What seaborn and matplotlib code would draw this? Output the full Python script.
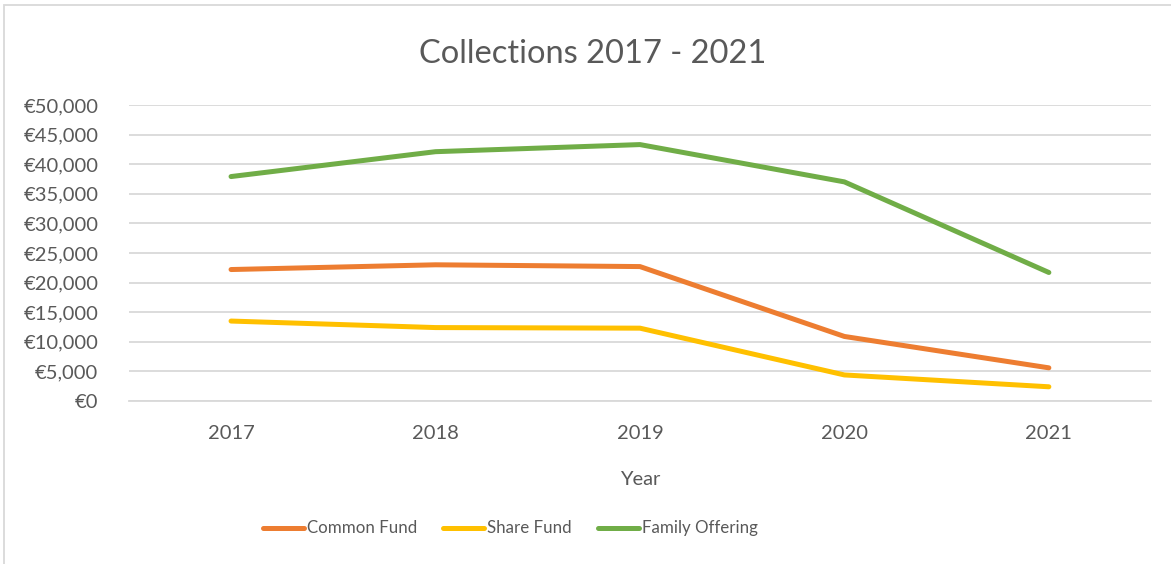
import pandas as pd
import seaborn as sns
import matplotlib.pyplot as plt
from matplotlib.ticker import FuncFormatter

# Values
years = ["2017", "2018", "2019", "2020", "2021"]
common_fund = [22200, 23000, 22700, 10900, 5600]
share_fund = [13500, 12400, 12300, 4400, 2400]
family_offering = [37900, 42100, 43300, 37000, 21700]

series_names = ["Common Fund", "Share Fund", "Family Offering"]
colors = ["#ED7D31", "#FFC000", "#70AD47"]
text_color = "#595959"
grid_color = "#D9D9D9"


def main():
    df = pd.DataFrame({
        "Year": years * 3,
        "Amount": common_fund + share_fund + family_offering,
        "Series": [s for s in series_names for _ in years],
    })

    sns.set_style("white")
    plt.rcParams["font.family"] = ["Lato", "DejaVu Sans"]

    fig = plt.figure(figsize=(11.71, 5.64), dpi=100)
    ax = fig.add_axes([0.110, 0.289, 0.873, 0.525])

    sns.lineplot(data=df, x="Year", y="Amount", hue="Series",
                 palette=dict(zip(series_names, colors)), linewidth=3.6,
                 sort=False, ax=ax, legend=False,
                 solid_capstyle="round", solid_joinstyle="round")

    ax.set_xlim(-0.5, 4.5)
    ax.set_ylim(0, 50000)
    ax.set_yticks(range(0, 50001, 5000))
    ax.yaxis.set_major_formatter(FuncFormatter(lambda v, p: f"€{v:,.0f}"))
    ax.grid(axis="y", color=grid_color, linewidth=1.3)
    ax.set_axisbelow(True)

    for side in ["left", "right", "top"]:
        ax.spines[side].set_visible(False)
    ax.spines["bottom"].set_color(grid_color)
    ax.spines["bottom"].set_linewidth(1.3)

    ax.tick_params(axis="y", length=0, pad=22, labelsize=14.5, labelcolor=text_color)
    ax.tick_params(axis="x", which="major", length=0, pad=17, labelsize=14.5,
                   labelcolor=text_color)
    # Category boundary marks under the axis
    ax.set_xticks([-0.5, 4.5], minor=True)
    ax.tick_params(axis="x", which="minor", length=66, width=1.3, color=grid_color)

    ax.set_xlabel("Year", fontsize=14.5, color=text_color, labelpad=-19)
    ax.set_ylabel("")

    fig.suptitle("Collections 2017 - 2021", x=0.506, y=0.93, fontsize=23.5,
                 color=text_color)

    handles = [plt.Line2D([], [], color=c, linewidth=3.6, solid_capstyle="round")
               for c in colors]
    fig.legend(handles, series_names, loc="center", bbox_to_anchor=(0.436, 0.063),
               ncol=3, frameon=False, fontsize=12.2, labelcolor=text_color,
               handlelength=2.4, handletextpad=0.2, columnspacing=1.55)

    # Chart frame (only left and top edges fall inside the picture)
    fig.patches.append(plt.Rectangle((0.0035, -0.1), 1.2, 1.091, transform=fig.transFigure,
                                     fill=False, edgecolor=grid_color, linewidth=1.3))

    fig.savefig("out.png", dpi=100)
    plt.close(fig)


if __name__ == "__main__":
    main()
